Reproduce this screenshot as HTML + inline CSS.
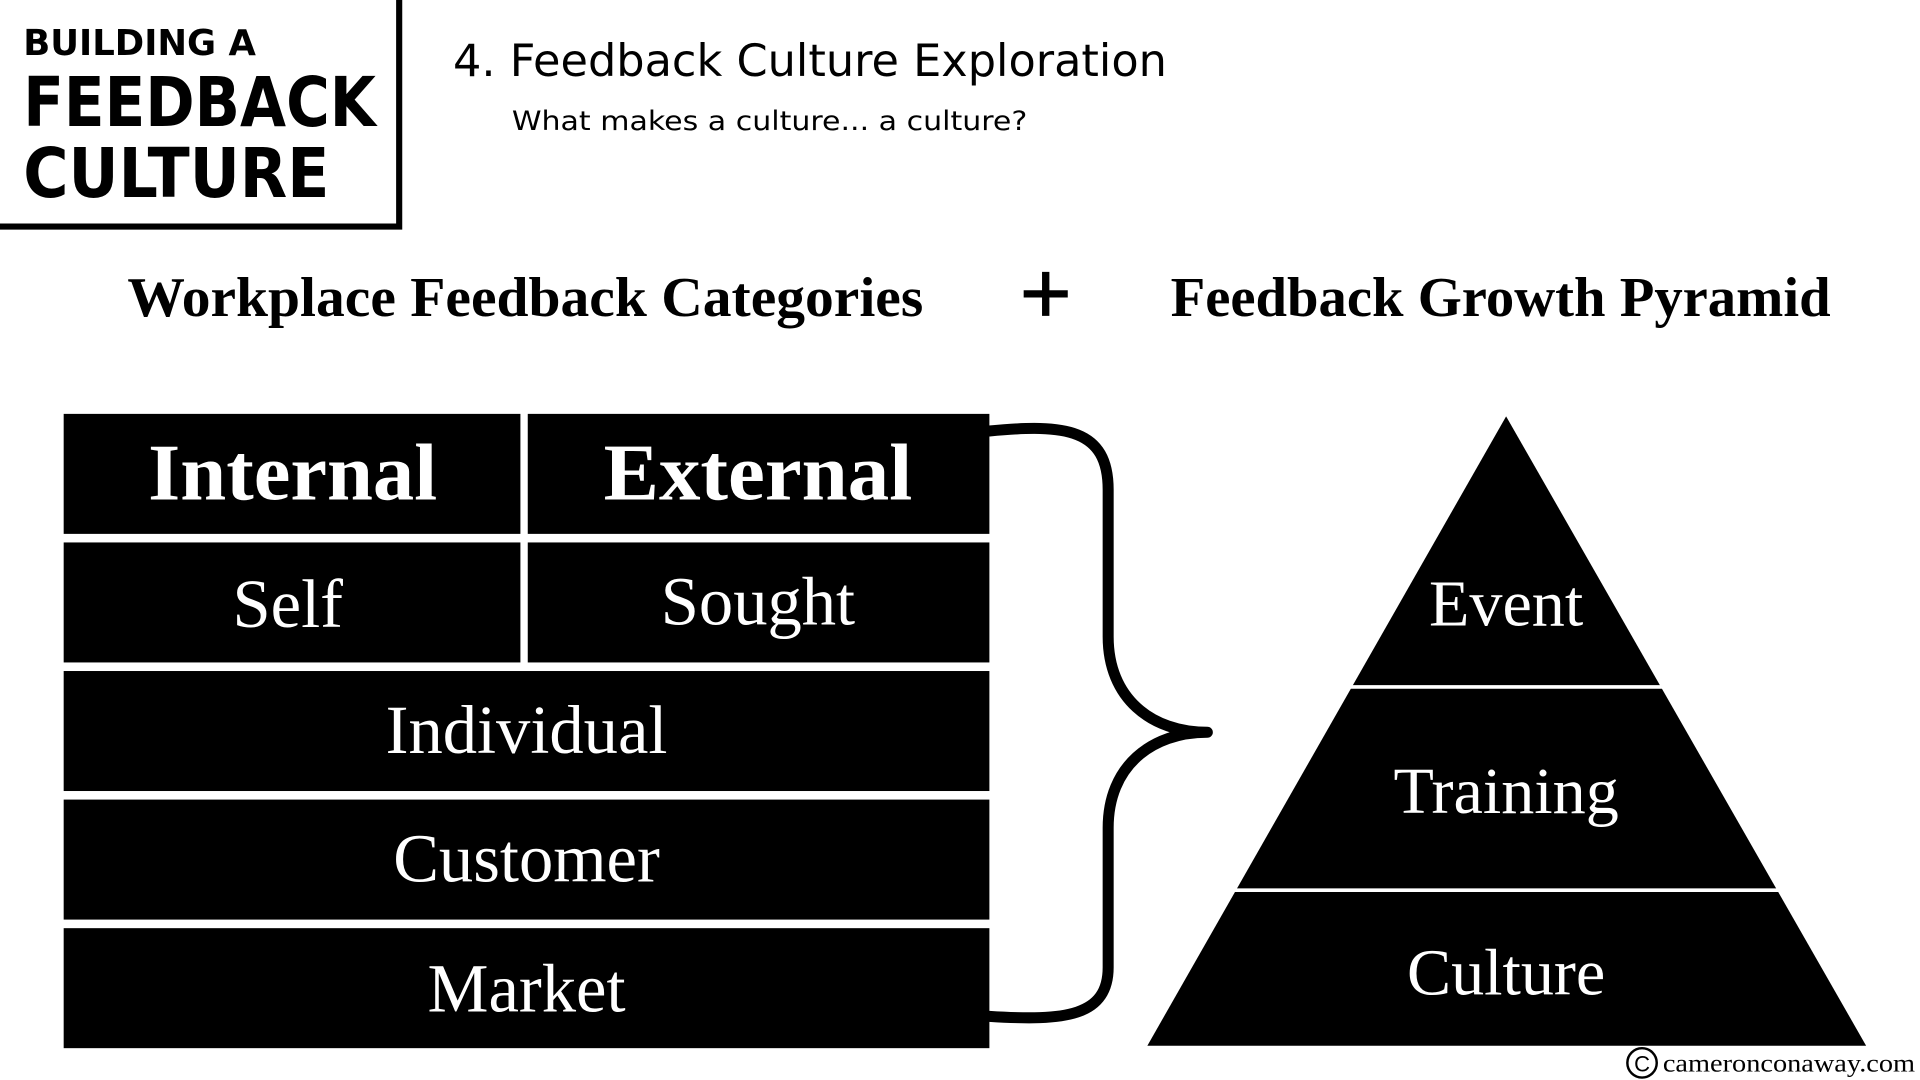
<!DOCTYPE html>
<html><head><meta charset="utf-8"><style>
html,body{margin:0;padding:0;background:#fff;}
svg{display:block;}
</style></head><body>
<svg width="1920" height="1080" viewBox="0 0 1568 882" preserveAspectRatio="none" xmlns="http://www.w3.org/2000/svg">
<rect width="1568" height="882" fill="#fff"/>
<path d="M0 185 H326 V0" fill="none" stroke="#000" stroke-width="5"/>
<g font-family="'DejaVu Sans','Liberation Sans',sans-serif" font-weight="bold" fill="#000">
<text x="19" y="45" font-size="29" textLength="190" lengthAdjust="spacingAndGlyphs">BUILDING A</text>
<text x="19" y="103" font-size="56" textLength="288" lengthAdjust="spacingAndGlyphs">FEEDBACK</text>
<text x="19" y="161" font-size="56" textLength="250" lengthAdjust="spacingAndGlyphs">CULTURE</text>
</g>
<g font-family="'DejaVu Sans','Liberation Sans',sans-serif" fill="#000">
<text x="370" y="62" font-size="36" textLength="583" lengthAdjust="spacingAndGlyphs">4. Feedback Culture Exploration</text>
<text x="418" y="106" font-size="22" textLength="421" lengthAdjust="spacingAndGlyphs">What makes a culture... a culture?</text>
</g>
<g font-family="'Liberation Serif',serif" font-weight="bold" fill="#000" font-size="46">
<text x="104" y="258" textLength="650" lengthAdjust="spacingAndGlyphs">Workplace Feedback Categories</text>
<text x="956" y="258" textLength="539" lengthAdjust="spacingAndGlyphs">Feedback Growth Pyramid</text>
</g>
<path d="M836 240 H872 M854 222 V258" stroke="#000" stroke-width="6"/>
<g fill="#000">
<rect x="52" y="338" width="373" height="98"/>
<rect x="431" y="338" width="377" height="98"/>
<rect x="52" y="443" width="373" height="98"/>
<rect x="431" y="443" width="377" height="98"/>
<rect x="52" y="548" width="756" height="98"/>
<rect x="52" y="653" width="756" height="98"/>
<rect x="52" y="758" width="756" height="98"/>
</g>
<g font-family="'Liberation Serif',serif" fill="#fff" text-anchor="middle">
<text x="239" y="408" font-size="66" font-weight="bold" textLength="236" lengthAdjust="spacingAndGlyphs">Internal</text>
<text x="619" y="408" font-size="66" font-weight="bold" textLength="252" lengthAdjust="spacingAndGlyphs">External</text>
<text x="235" y="512" font-size="56">Self</text>
<text x="619" y="510" font-size="56">Sought</text>
<text x="430" y="615" font-size="56">Individual</text>
<text x="430" y="720" font-size="56">Customer</text>
<text x="430" y="826" font-size="56">Market</text>
</g>
<path d="M808 352 C870 346 905 350 905 400 L905 520 C905 570 940 598 986 598 C940 598 905 626 905 676 L905 790 C905 830 870 834 808 830" fill="none" stroke="#000" stroke-width="9" stroke-linejoin="round" stroke-linecap="round"/>
<polygon points="1230,340 1524,854 937,854" fill="#000"/>
<path d="M1100 561 H1362 M1005 727 H1456" stroke="#fff" stroke-width="3"/>
<g font-family="'Liberation Serif',serif" fill="#fff" text-anchor="middle" font-size="54">
<text x="1230" y="511">Event</text>
<text x="1230" y="664">Training</text>
<text x="1230" y="812">Culture</text>
</g>
<circle cx="1341" cy="868" r="12" fill="none" stroke="#000" stroke-width="2"/>
<text x="1341" y="875" font-family="'Liberation Sans',sans-serif" font-size="18" text-anchor="middle" fill="#000">C</text>
<text x="1358" y="875" font-family="'Liberation Serif',serif" font-size="21" fill="#000" textLength="206" lengthAdjust="spacingAndGlyphs">cameronconaway.com</text>
</svg>
</body></html>
